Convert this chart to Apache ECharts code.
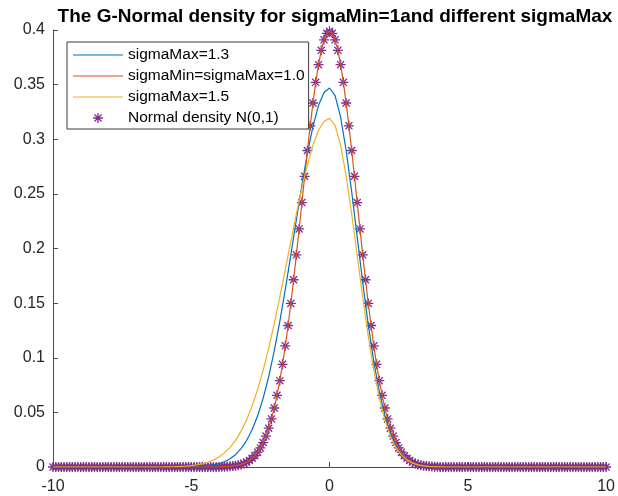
<!DOCTYPE html>
<html>
<head>
<meta charset="utf-8">
<script src="https://cdn.jsdelivr.net/npm/echarts@6/dist/echarts.min.js"></script>
<style>
html,body{margin:0;padding:0;background:#fff;}
#chart{width:618px;height:496px;}
</style>
</head>
<body>
<div id="chart"></div>
<script>
// x positions of the N(0,1) markers / orange curve
const normX = [
-10,-9.9,-9.8,-9.7,-9.6,-9.5,-9.4,-9.3,-9.2,-9.1,
-9,-8.9,-8.8,-8.7,-8.6,-8.5,-8.4,-8.3,-8.2,-8.1,
-8,-7.9,-7.8,-7.7,-7.6,-7.5,-7.4,-7.3,-7.2,-7.1,
-7,-6.9,-6.8,-6.7,-6.6,-6.5,-6.4,-6.3,-6.2,-6.1,
-6,-5.9,-5.8,-5.7,-5.6,-5.5,-5.4,-5.3,-5.2,-5.1,
-5,-4.9,-4.8,-4.7,-4.6,-4.5,-4.4,-4.3,-4.2,-4.1,
-4,-3.9,-3.8,-3.7,-3.6,-3.5,-3.4,-3.3,-3.2,-3.1,
-3,-2.9,-2.8,-2.7,-2.6,-2.5,-2.4,-2.3,-2.2,-2.1,
-2,-1.9,-1.8,-1.7,-1.6,-1.5,-1.4,-1.3,-1.2,-1.1,
-1,-0.9,-0.8,-0.7,-0.6,-0.5,-0.4,-0.3,-0.2,-0.1,
0,
0.1,0.2,0.3,0.4,0.5,0.6,0.7,0.8,0.9,1,
1.1,1.2,1.3,1.4,1.5,1.6,1.7,1.8,1.9,2,
2.1,2.2,2.3,2.4,2.5,2.6,2.7,2.8,2.9,3,
3.1,3.2,3.3,3.4,3.5,3.6,3.7,3.8,3.9,4,
4.1,4.2,4.3,4.4,4.5,4.6,4.7,4.8,4.9,5,
5.1,5.2,5.3,5.4,5.5,5.6,5.7,5.8,5.9,6,
6.1,6.2,6.3,6.4,6.5,6.6,6.7,6.8,6.9,7,
7.1,7.2,7.3,7.4,7.5,7.6,7.7,7.8,7.9,8,
8.1,8.2,8.3,8.4,8.5,8.6,8.7,8.8,8.9,9,
9.1,9.2,9.3,9.4,9.5,9.6,9.7,9.8,9.9,10
];
// N(0,1) density values (markers and sigmaMin=sigmaMax=1.0 curve)
const normY = [
0,0,0,0,0,0,0,0,0,0,
0,0,0,0,0,0,0,0,0,0,
0,0,0,0,0,0,0,0,0,0,
0,0,0,0,0,0,0,0,0,0,
0,0,0,0,0,0,0,0,0,0,
0,0,0,0,0,0,0,0,0,0,
0.0001,0.0002,0.0003,0.0004,0.0006,0.0009,0.0012,0.0017,0.0024,0.0033,
0.0044,0.0060,0.0079,0.0104,0.0136,0.0175,0.0224,0.0283,0.0355,0.0440,
0.0540,0.0656,0.0790,0.0940,0.1109,0.1295,0.1497,0.1714,0.1942,0.2179,
0.2420,0.2661,0.2897,0.3123,0.3332,0.3521,0.3683,0.3814,0.3910,0.3970,
0.3989,
0.3970,0.3910,0.3814,0.3683,0.3521,0.3332,0.3123,0.2897,0.2661,0.2420,
0.2179,0.1942,0.1714,0.1497,0.1295,0.1109,0.0940,0.0790,0.0656,0.0540,
0.0440,0.0355,0.0283,0.0224,0.0175,0.0136,0.0104,0.0079,0.0060,0.0044,
0.0033,0.0024,0.0017,0.0012,0.0009,0.0006,0.0004,0.0003,0.0002,0.0001,
0,0,0,0,0,0,0,0,0,0,
0,0,0,0,0,0,0,0,0,0,
0,0,0,0,0,0,0,0,0,0,
0,0,0,0,0,0,0,0,0,0,
0,0,0,0,0,0,0,0,0,0,
0,0,0,0,0,0,0,0,0,0
];
// x positions read for the sigmaMax curves
const lineX = [
-10,
-6,-5.8,-5.6,-5.4,-5.2,-5,-4.8,-4.6,-4.4,-4.2,
-4,-3.8,-3.6,-3.4,-3.2,-3,-2.8,-2.6,-2.4,-2.2,
-2,-1.8,-1.6,-1.4,-1.2,-1,-0.8,-0.6,-0.4,-0.2,
0,
0.2,0.4,0.6,0.8,1,1.2,1.4,1.6,1.8,2,
2.2,2.4,2.6,2.8,3,3.2,3.4,3.6,3.8,4,
4.2,4.4,
10
];
const sigma13Y = [
0,
0,0,0,0,0.0001,0.0002,0.0004,0.0007,0.0011,0.0019,
0.0031,0.0048,0.0075,0.0113,0.0168,0.0242,0.0341,0.0469,0.0631,0.0828,
0.1062,0.1330,0.1626,0.1942,0.2265,0.2580,0.2870,0.3118,0.3308,0.3428,
0.3469,
0.3400,0.3203,0.2897,0.2519,0.2104,0.1689,0.1302,0.0964,0.0687,0.0470,
0.0309,0.0195,0.0118,0.0069,0.0038,0.0021,0.0010,0.0005,0.0003,0.0001,
0,0,
0
];
const sigma15Y = [
0,
0.0001,0.0002,0.0003,0.0005,0.0008,0.0012,0.0019,0.0029,0.0043,0.0063,
0.0091,0.0129,0.0179,0.0244,0.0328,0.0432,0.0559,0.0710,0.0887,0.1089,
0.1312,0.1554,0.1807,0.2064,0.2318,0.2555,0.2768,0.2946,0.3080,0.3163,
0.3191,
0.3128,0.2946,0.2666,0.2318,0.1936,0.1554,0.1198,0.0887,0.0632,0.0432,
0.0284,0.0179,0.0109,0.0063,0.0035,0.0019,0.0010,0.0005,0.0002,0.0001,
0,0,
0
];
const seriesNames = ['sigmaMax=1.3','sigmaMin=sigmaMax=1.0','sigmaMax=1.5','Normal density N(0,1)'];
const colors = ['#0072BD','#D95319','#EDB120','#7E2F8E'];
const titleText = 'The G-Normal density for sigmaMin=1and different sigmaMax';

const zip = (xs, ys) => xs.map((x, i) => [x, ys[i]]);
const star = 'path://M0 -5L0 5M-5 0L5 0M-3.54 -3.54L3.54 3.54M-3.54 3.54L3.54 -3.54';
const lineIcon = 'path://M0 0H50V1.2H0Z';
const font = 'Liberation Sans, Arial, Helvetica, sans-serif';
const axisColor = '#4a4a4a';

const chart = echarts.init(document.getElementById('chart'), null, {renderer: 'canvas'});
chart.setOption({
  animation: false,
  backgroundColor: '#fff',
  title: {
    text: titleText,
    left: 330, textAlign: 'center', top: 2,
    textStyle: {fontFamily: font, fontWeight: 'bold', fontSize: 19, color: '#000'}
  },
  grid: {left: 53, right: 7, top: 30, bottom: 29, containLabel: false},
  legend: {
    orient: 'vertical', left: 67, top: 42,
    padding: [5, 4, 3, 6],
    itemWidth: 50, itemHeight: 10, itemGap: 5,
    backgroundColor: '#fff', borderColor: '#3a3a3a', borderWidth: 1,
    textStyle: {fontFamily: font, fontSize: 15.5, color: '#000'},
    data: [
      {name: seriesNames[0], icon: lineIcon, itemStyle: {color: colors[0], borderWidth: 0}},
      {name: seriesNames[1], icon: lineIcon, itemStyle: {color: colors[1], borderWidth: 0}},
      {name: seriesNames[2], icon: lineIcon, itemStyle: {color: colors[2], borderWidth: 0}},
      {name: seriesNames[3], icon: star, itemStyle: {color: colors[3], borderColor: colors[3], borderWidth: 1.3}}
    ]
  },
  xAxis: {
    type: 'value', min: -10, max: 10, interval: 5,
    axisLine: {onZero: false, lineStyle: {color: axisColor, width: 1}},
    axisTick: {inside: true, length: 5, lineStyle: {color: axisColor}},
    splitLine: {show: false},
    axisLabel: {margin: 12, fontFamily: font, fontSize: 16, color: '#262626'}
  },
  yAxis: {
    type: 'value', min: 0, max: 0.4, interval: 0.05,
    axisLine: {show: true, onZero: false, lineStyle: {color: axisColor, width: 1}},
    axisTick: {show: true, inside: true, length: 5, lineStyle: {color: axisColor}},
    splitLine: {show: false},
    axisLabel: {margin: 8, fontFamily: font, fontSize: 16, color: '#262626'}
  },
  series: [
    {name: seriesNames[0], type: 'line', data: zip(lineX, sigma13Y), symbol: 'none',
     lineStyle: {color: colors[0], width: 1.2}, itemStyle: {color: colors[0]}},
    {name: seriesNames[1], type: 'line', data: zip(normX, normY), symbol: 'none',
     lineStyle: {color: colors[1], width: 1.2}, itemStyle: {color: colors[1]}},
    {name: seriesNames[2], type: 'line', data: zip(lineX, sigma15Y), symbol: 'none',
     lineStyle: {color: colors[2], width: 1.2}, itemStyle: {color: colors[2]}},
    {name: seriesNames[3], type: 'scatter', data: zip(normX, normY), symbol: star, symbolSize: 10,
     clip: false,
     itemStyle: {color: colors[3], borderColor: colors[3], borderWidth: 1.3, opacity: 1}}
  ]
});
</script>
</body>
</html>
